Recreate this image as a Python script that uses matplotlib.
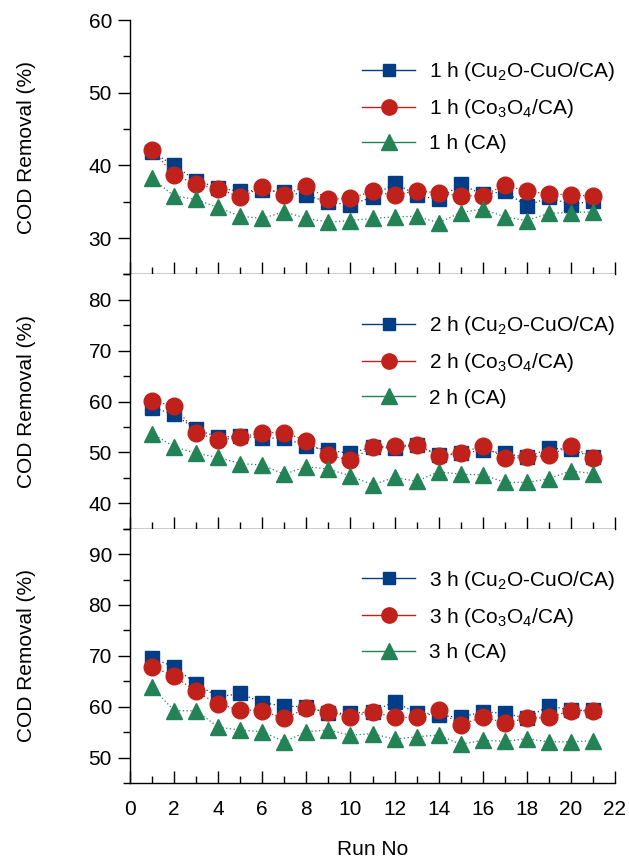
import numpy as np
import matplotlib
matplotlib.use('Agg')
from matplotlib import pyplot as plt
from matplotlib.lines import Line2D
from matplotlib.ticker import MultipleLocator

plt.rcParams['font.family'] = ['Liberation Sans', 'DejaVu Sans']
plt.rcParams['mathtext.fontset'] = 'custom'
plt.rcParams['mathtext.rm'] = 'Liberation Sans'
plt.rcParams['mathtext.it'] = 'Liberation Sans:italic'
plt.rcParams['font.size'] = 15

runs = np.arange(1, 22)

# 1 h
cu_1h = [41.8, 40.0, 37.9, 36.9, 36.4, 36.6, 36.3, 35.9, 34.9, 34.6, 35.6, 37.6, 35.9, 35.3, 37.4, 36.0, 36.4, 34.4, 35.6, 34.6, 35.1]
co_1h = [42.1, 38.7, 37.4, 36.8, 35.6, 37.0, 35.9, 37.2, 35.3, 35.5, 36.4, 35.9, 36.5, 36.2, 35.8, 35.8, 37.3, 36.4, 36.1, 35.9, 35.8]
ca_1h = [38.2, 35.8, 35.3, 34.2, 33.0, 32.7, 33.6, 32.7, 32.2, 32.4, 32.7, 32.9, 33.0, 32.1, 33.5, 34.0, 32.9, 32.4, 33.4, 33.5, 33.6]

# 2 h
cu_2h = [58.8, 57.5, 54.5, 53.0, 53.2, 52.8, 52.8, 51.3, 50.4, 49.8, 51.1, 50.8, 51.5, 49.5, 49.8, 50.4, 49.8, 49.0, 50.8, 50.6, 49.0]
co_2h = [60.1, 59.1, 53.9, 52.4, 53.0, 53.9, 53.9, 52.3, 49.4, 48.5, 51.0, 51.3, 51.5, 49.3, 49.8, 51.3, 48.9, 49.0, 49.4, 51.3, 48.9]
ca_2h = [53.7, 51.1, 49.8, 49.0, 47.8, 47.5, 45.7, 47.2, 46.7, 45.4, 43.6, 45.1, 44.3, 46.2, 45.7, 45.6, 44.1, 44.1, 44.8, 46.4, 45.8]

# 3 h
cu_3h = [69.6, 67.8, 64.5, 61.9, 62.6, 60.8, 60.1, 60.0, 58.7, 58.7, 59.0, 61.0, 58.7, 58.3, 57.9, 59.0, 58.7, 57.7, 60.2, 59.3, 59.3]
co_3h = [67.9, 66.0, 63.0, 60.5, 59.4, 59.2, 57.7, 59.7, 59.0, 58.0, 59.0, 57.9, 57.9, 59.4, 56.4, 58.0, 56.8, 57.7, 57.9, 59.2, 59.2]
ca_3h = [63.9, 59.2, 59.2, 56.0, 55.4, 55.1, 53.1, 55.1, 55.4, 54.4, 54.7, 53.6, 54.1, 54.4, 52.6, 53.4, 53.2, 53.7, 53.1, 53.1, 53.3]

hours = ['1 h', '2 h', '3 h']
ylims = [(25, 60), (35, 85), (45, 95)]
yticks = [[30, 40, 50, 60], [40, 50, 60, 70, 80], [50, 60, 70, 80, 90]]
data = [(cu_1h, co_1h, ca_1h), (cu_2h, co_2h, ca_2h), (cu_3h, co_3h, ca_3h)]

blue = '#003d86'
red = '#c0211a'
green = '#238256'

fig, axes = plt.subplots(3, 1, figsize=(6.29, 8.63), dpi=100, sharex=True)
fig.subplots_adjust(left=130/629, right=615/629, top=1-20/863, bottom=1-783/863, hspace=0)

for i, ax in enumerate(axes):
    cu, co, ca = data[i]
    ls = (0, (1, 2))
    ax.plot(runs, cu, ls=ls, lw=0.9, color=blue, marker='s', ms=9.5, mec=blue)
    ax.plot(runs, co, ls=ls, lw=0.9, color=red, marker='o', ms=12, mec=red)
    ax.plot(runs, ca, ls=ls, lw=0.9, color=green, marker='^', ms=12, mec=green)

    ax.set_xlim(0, 22)
    ax.set_ylim(*ylims[i])
    ax.set_yticks(yticks[i])
    ax.yaxis.set_minor_locator(MultipleLocator(5))
    ax.xaxis.set_major_locator(MultipleLocator(2))
    ax.xaxis.set_minor_locator(MultipleLocator(1))
    ax.spines['top'].set_visible(False)
    ax.spines['right'].set_visible(False)
    for s in ['left', 'bottom']:
        ax.spines[s].set_linewidth(1.0)
    ax.tick_params(axis='y', which='major', direction='out', length=9, width=1, labelsize=15, pad=4)
    ax.tick_params(axis='y', which='minor', direction='out', length=5, width=1)
    ax.tick_params(axis='x', which='major', direction='in', length=9, width=1, labelsize=15, pad=12)
    ax.tick_params(axis='x', which='minor', direction='in', length=5, width=1)
    ax.set_ylabel('COD Removal (%)', fontsize=15, labelpad=38)

    h = hours[i]
    handles = [
        Line2D([], [], color=blue, lw=1, marker='s', ms=9),
        Line2D([], [], color=red, lw=1, marker='o', ms=11),
        Line2D([], [], color=green, lw=1, marker='^', ms=11),
    ]
    labels = [h + r' (Cu$_2$O-CuO/CA)', h + r' (Co$_3$O$_4$/CA)', h + ' (CA)']
    ax.legend(handles, labels, loc='upper right', bbox_to_anchor=(1.0, 0.843),
              frameon=False, fontsize=15, handlelength=2.5, handletextpad=0.7,
              labelspacing=0.68, borderpad=0, borderaxespad=0)

axes[-1].set_xlabel('Run No', fontsize=15, labelpad=15)
fig.align_ylabels(axes)

plt.savefig('out.png', dpi=100)
